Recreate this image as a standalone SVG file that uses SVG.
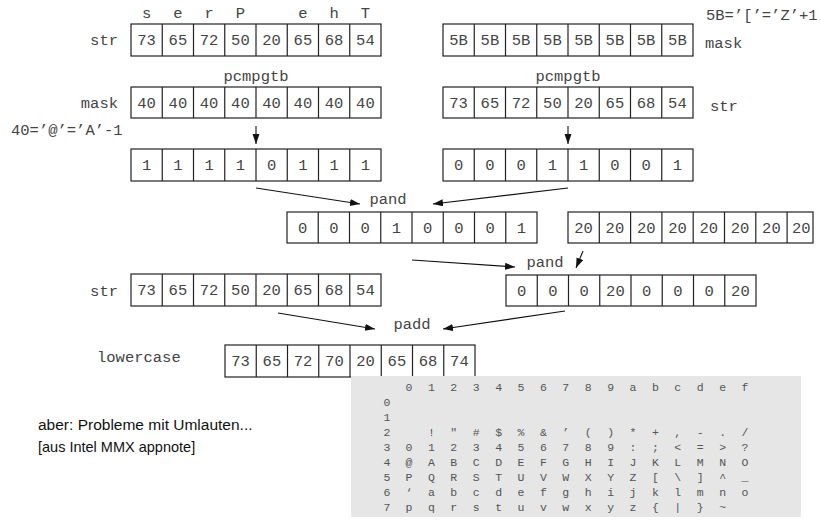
<svg xmlns="http://www.w3.org/2000/svg" width="821" height="521" viewBox="0 0 821 521">
<style>
.m{font-family:"Liberation Mono","DejaVu Sans Mono",monospace;font-size:15.5px;fill:#444}
.c{text-anchor:middle}
.e{text-anchor:end}
.box{fill:#fff;stroke:#222;stroke-width:1.2}
.grid{fill:none;stroke:#222;stroke-width:1.2}
.con{stroke:#111;stroke-width:1.1;fill:none;marker-end:url(#ah)}
.t{font-family:"Liberation Mono","DejaVu Sans Mono",monospace;font-size:11.5px;fill:#555;text-anchor:middle}
.s{font-family:"Liberation Sans",Arial,sans-serif;fill:#111}
</style>
<defs>
<marker id="ah" markerUnits="userSpaceOnUse" markerWidth="11" markerHeight="8" refX="10" refY="3.5" orient="auto">
<path d="M0,0 L10,3.5 L0,7 z" fill="#111"/>
</marker>
</defs>

<g id="str-top">
<text class="m c" x="146.6 177.9 209.1 240.4" y="17.5">serP</text>
<text class="m c" x="302.9 334.1 365.4" y="17.5">ehT</text>
<text class="m e" x="118" y="45">str</text>
<rect class="box" x="131" y="24" width="250" height="32"/>
<path class="grid" d="M162.25,24V56M193.5,24V56M224.75,24V56M256,24V56M287.25,24V56M318.5,24V56M349.75,24V56"/>
<text class="m c" x="146.6" y="45">73</text>
<text class="m c" x="177.9" y="45">65</text>
<text class="m c" x="209.1" y="45">72</text>
<text class="m c" x="240.4" y="45">50</text>
<text class="m c" x="271.6" y="45">20</text>
<text class="m c" x="302.9" y="45">65</text>
<text class="m c" x="334.1" y="45">68</text>
<text class="m c" x="365.4" y="45">54</text>
</g>

<g id="mask-top">
<text class="m" x="706" y="20" font-size="15">5B=’[’=’Z’+1</text>
<rect class="box" x="443" y="24" width="250" height="32"/>
<path class="grid" d="M474.25,24V56M505.5,24V56M536.75,24V56M568,24V56M599.25,24V56M630.5,24V56M661.75,24V56"/>
<text class="m c" x="458.6" y="45">5B</text>
<text class="m c" x="489.9" y="45">5B</text>
<text class="m c" x="521.1" y="45">5B</text>
<text class="m c" x="552.4" y="45">5B</text>
<text class="m c" x="583.6" y="45">5B</text>
<text class="m c" x="614.9" y="45">5B</text>
<text class="m c" x="646.1" y="45">5B</text>
<text class="m c" x="677.4" y="45">5B</text>
<text class="m" x="705" y="48">mask</text>
</g>

<g id="mask-left">
<text class="m c" x="256" y="81">pcmpgtb</text>
<text class="m e" x="118" y="108">mask</text>
<text class="m" x="11" y="135">40=’@’=’A’-1</text>
<rect class="box" x="131" y="87" width="250" height="31"/>
<path class="grid" d="M162.25,87V118M193.5,87V118M224.75,87V118M256,87V118M287.25,87V118M318.5,87V118M349.75,87V118"/>
<text class="m c" x="146.6" y="108">40</text>
<text class="m c" x="177.9" y="108">40</text>
<text class="m c" x="209.1" y="108">40</text>
<text class="m c" x="240.4" y="108">40</text>
<text class="m c" x="271.6" y="108">40</text>
<text class="m c" x="302.9" y="108">40</text>
<text class="m c" x="334.1" y="108">40</text>
<text class="m c" x="365.4" y="108">40</text>
</g>

<g id="str-right">
<text class="m c" x="568" y="81">pcmpgtb</text>
<rect class="box" x="443" y="87" width="250" height="31"/>
<path class="grid" d="M474.25,87V118M505.5,87V118M536.75,87V118M568,87V118M599.25,87V118M630.5,87V118M661.75,87V118"/>
<text class="m c" x="458.6" y="108">73</text>
<text class="m c" x="489.9" y="108">65</text>
<text class="m c" x="521.1" y="108">72</text>
<text class="m c" x="552.4" y="108">50</text>
<text class="m c" x="583.6" y="108">20</text>
<text class="m c" x="614.9" y="108">65</text>
<text class="m c" x="646.1" y="108">68</text>
<text class="m c" x="677.4" y="108">54</text>
<text class="m" x="710" y="111">str</text>
</g>

<g id="res-left">
<rect class="box" x="131" y="149" width="250" height="32"/>
<path class="grid" d="M162.25,149V181M193.5,149V181M224.75,149V181M256,149V181M287.25,149V181M318.5,149V181M349.75,149V181"/>
<text class="m c" x="146.6 177.9 209.1 240.4 271.6 302.9 334.1 365.4" y="170">11110111</text>
</g>

<g id="res-right">
<rect class="box" x="443" y="149" width="250" height="32"/>
<path class="grid" d="M474.25,149V181M505.5,149V181M536.75,149V181M568,149V181M599.25,149V181M630.5,149V181M661.75,149V181"/>
<text class="m c" x="458.6 489.9 521.1 552.4 583.6 614.9 646.1 677.4" y="170">00011001</text>
</g>

<g id="pand1">
<text class="m c" x="388" y="204">pand</text>
<rect class="box" x="287" y="212" width="250" height="31"/>
<path class="grid" d="M318.25,212V243M349.5,212V243M380.75,212V243M412,212V243M443.25,212V243M474.5,212V243M505.75,212V243"/>
<text class="m c" x="302.6 333.9 365.1 396.4 427.6 458.9 490.1 521.4" y="233">00010001</text>
</g>

<g id="twenty">
<rect class="box" x="568" y="212" width="245" height="31"/>
<path class="grid" d="M599.3,212V243M630.6,212V243M661.9,212V243M693.2,212V243M724.5,212V243M755.8,212V243M787.1,212V243"/>
<text class="m c" x="583.6" y="233">20</text>
<text class="m c" x="614.9" y="233">20</text>
<text class="m c" x="646.2" y="233">20</text>
<text class="m c" x="677.5" y="233">20</text>
<text class="m c" x="708.8" y="233">20</text>
<text class="m c" x="740.1" y="233">20</text>
<text class="m c" x="771.4" y="233">20</text>
<text class="m c" x="801.2" y="233">20</text>
</g>

<g id="pand2">
<text class="m c" x="545" y="267">pand</text>
<rect class="box" x="506" y="275" width="250" height="31"/>
<path class="grid" d="M537.25,275V306M568.5,275V306M599.75,275V306M631,275V306M662.25,275V306M693.5,275V306M724.75,275V306"/>
<text class="m c" x="521.6 552.9 584.1" y="296">000</text>
<text class="m c" x="615.4" y="296">20</text>
<text class="m c" x="646.6 677.9 709.1" y="296">000</text>
<text class="m c" x="740.4" y="296">20</text>
</g>

<g id="str-bottom">
<text class="m e" x="118" y="296">str</text>
<rect class="box" x="131" y="274" width="250" height="32"/>
<path class="grid" d="M162.25,274V306M193.5,274V306M224.75,274V306M256,274V306M287.25,274V306M318.5,274V306M349.75,274V306"/>
<text class="m c" x="146.6" y="295">73</text>
<text class="m c" x="177.9" y="295">65</text>
<text class="m c" x="209.1" y="295">72</text>
<text class="m c" x="240.4" y="295">50</text>
<text class="m c" x="271.6" y="295">20</text>
<text class="m c" x="302.9" y="295">65</text>
<text class="m c" x="334.1" y="295">68</text>
<text class="m c" x="365.4" y="295">54</text>
</g>

<g id="lowercase">
<text class="m c" x="412" y="329">padd</text>
<text class="m" x="97" y="362">lowercase</text>
<rect class="box" x="225" y="345" width="250" height="32"/>
<path class="grid" d="M256.25,345V377M287.5,345V377M318.75,345V377M350,345V377M381.25,345V377M412.5,345V377M443.75,345V377"/>
<text class="m c" x="240.6" y="366">73</text>
<text class="m c" x="271.9" y="366">65</text>
<text class="m c" x="303.1" y="366">72</text>
<text class="m c" x="334.4" y="366">70</text>
<text class="m c" x="365.6" y="366">20</text>
<text class="m c" x="396.9" y="366">65</text>
<text class="m c" x="428.1" y="366">68</text>
<text class="m c" x="459.4" y="366">74</text>
</g>

<g id="connectors">
<line class="con" x1="256" y1="126" x2="256" y2="144"/>
<line class="con" x1="568" y1="126" x2="568" y2="144"/>
<line class="con" x1="256" y1="188" x2="360" y2="204"/>
<line class="con" x1="568" y1="188" x2="433" y2="204"/>
<line class="con" x1="412" y1="260" x2="515" y2="267"/>
<line class="con" x1="583" y1="251" x2="576" y2="268"/>
<line class="con" x1="278" y1="313" x2="375" y2="329"/>
<line class="con" x1="565" y1="311" x2="443" y2="329"/>
</g>

<g id="notes">
<text class="s" x="38" y="430" font-size="15.5">aber: Probleme mit Umlauten...</text>
<text class="s" x="38" y="452" font-size="14.5">[aus Intel MMX appnote]</text>
</g>

<g id="ascii-table">
<rect x="351" y="376" width="450" height="141" fill="#e6e6e6"/>
<text class="t" x="409 431.4 453.8 476.2 498.6 521 543.4 565.8 588.2 610.6 633 655.4 677.8 700.2 722.6 745" y="391">0123456789abcdef</text>
<text class="t" x="387" y="406">0</text>
<text class="t" x="387" y="421">1</text>
<text class="t" x="387" y="436">2</text>
<text class="t" x="387" y="451">3</text>
<text class="t" x="387" y="466">4</text>
<text class="t" x="387" y="481">5</text>
<text class="t" x="387" y="496">6</text>
<text class="t" x="387" y="511">7</text>
<text class="t" x="431.4 453.8 476.2 498.6 521 543.4 565.8 588.2 610.6 633 655.4 677.8 700.2 722.6 745" y="436">!"#$%&amp;’()*+,-./</text>
<text class="t" x="409 431.4 453.8 476.2 498.6 521 543.4 565.8 588.2 610.6 633 655.4 677.8 700.2 722.6 745" y="451">0123456789:;&lt;=&gt;?</text>
<text class="t" x="409 431.4 453.8 476.2 498.6 521 543.4 565.8 588.2 610.6 633 655.4 677.8 700.2 722.6 745" y="466">@ABCDEFGHIJKLMNO</text>
<text class="t" x="409 431.4 453.8 476.2 498.6 521 543.4 565.8 588.2 610.6 633 655.4 677.8 700.2 722.6 745" y="481">PQRSTUVWXYZ[\]^_</text>
<text class="t" x="409 431.4 453.8 476.2 498.6 521 543.4 565.8 588.2 610.6 633 655.4 677.8 700.2 722.6 745" y="496">‘abcdefghijklmno</text>
<text class="t" x="409 431.4 453.8 476.2 498.6 521 543.4 565.8 588.2 610.6 633 655.4 677.8 700.2 722.6" y="511">pqrstuvwxyz{|}~</text>
</g>
</svg>
